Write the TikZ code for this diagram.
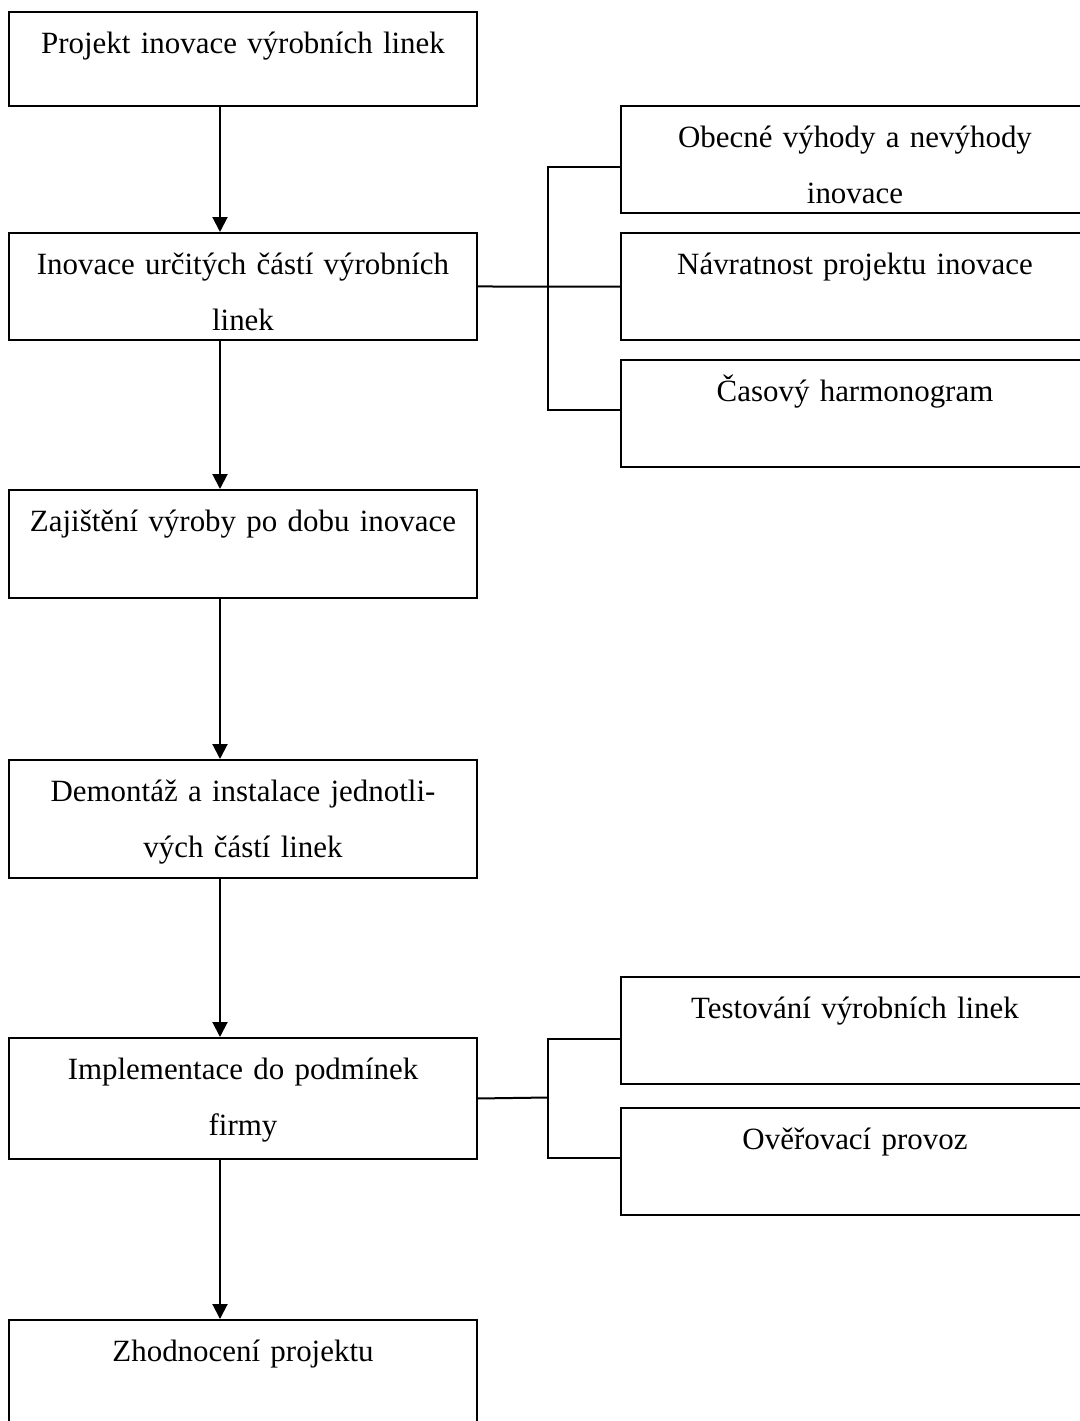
\documentclass[tikz,border=0pt]{standalone}
\usepackage{fontspec}
\setmainfont{Liberation Serif}
\usetikzlibrary{arrows.meta}

\begin{document}
\begin{tikzpicture}[x=0.75pt, y=-0.75pt,
  stage/.style={draw, line width=1.5pt, anchor=north west, inner sep=0pt,
    text width=351pt, align=center, text height=31.1pt, text depth=49.5pt,
    font=\fontsize{23.2pt}{42pt}\selectfont},
  flow/.style={line width=1.5pt, -{Triangle[width=11.25pt, length=11.25pt]}},
  link/.style={line width=1.5pt}]
\useasboundingbox (0,0) rectangle (1080,1421);
\clip (0,0) rectangle (1080,1421);
\coordinate (axis) at (220,0) ;
\coordinate (split1) at (548,285.5) ;
\coordinate (split2) at (548,1097.5) ;
\node[stage, text depth=39.4pt] (projekt) at (8,11) {Projekt inovace výrobních linek};
\node[stage, text depth=49.1pt] (inovace) at (8,232) {Inovace určitých částí výrobních\\linek};
\node[stage, text depth=49.9pt] (zajisteni) at (8,489) {Zajištění výroby po dobu inovace};
\node[stage, text depth=57.4pt] (demontaz) at (8,759) {Demontáž a instalace jednotli-\\vých částí linek};
\node[stage, text depth=59.6pt] (implementace) at (8,1037) {Implementace do podmínek\\firmy};
\node[stage, text depth=59.6pt] (zhodnoceni) at (8,1319) {Zhodnocení projektu};
\node[stage] (vyhody) at (620,105) {Obecné výhody a nevýhody\\inovace};
\node[stage] (navratnost) at (620,232) {Návratnost projektu inovace};
\node[stage] (harmonogram) at (620,359) {Časový harmonogram};
\node[stage] (testovani) at (620,976) {Testování výrobních linek};
\node[stage] (provoz) at (620,1107) {Ověřovací provoz};
\draw[flow] (projekt.south -| axis) -- (inovace.north -| axis) ;
\draw[flow] (inovace.south -| axis) -- (zajisteni.north -| axis) ;
\draw[flow] (zajisteni.south -| axis) -- (demontaz.north -| axis) ;
\draw[flow] (demontaz.south -| axis) -- (implementace.north -| axis) ;
\draw[flow] (implementace.south -| axis) -- (zhodnoceni.north -| axis) ;
\draw[link] (inovace.east) -- (navratnost.west) ;
\draw[link] ([yshift=-5.25pt]vyhody.west) -| (split1) |- ([yshift=3pt]harmonogram.west) ;
\draw[link] (implementace.east) -- (split2) ;
\draw[link] ([yshift=-6.4pt]testovani.west) -| (split2) |- ([yshift=2.6pt]provoz.west) ;
\end{tikzpicture}
\end{document}
